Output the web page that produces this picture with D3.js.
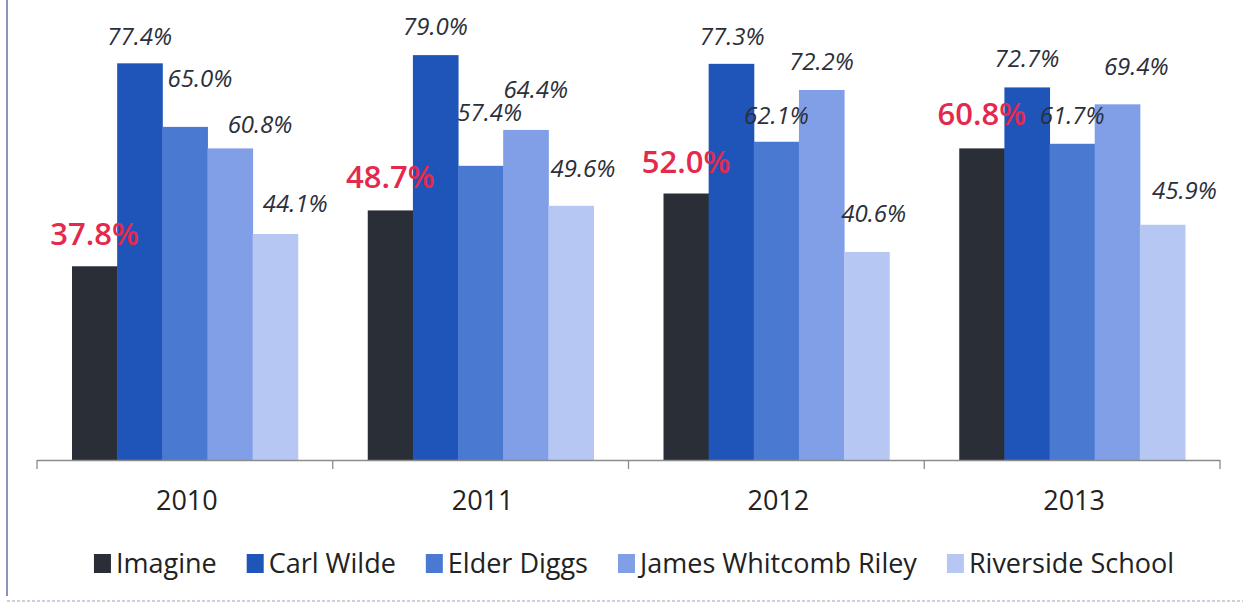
<!DOCTYPE html>
<html>
<head>
<meta charset="utf-8">
<script src="https://cdn.jsdelivr.net/npm/d3@7"></script>
<style>
  body { margin: 0; background: #fff; }
  svg { display: block; }
</style>
</head>
<body>
<svg id="chart" width="1243" height="604"></svg>
<script>
// Data
const years = ["2010", "2011", "2012", "2013"];
const schools = ["Imagine", "Carl Wilde", "Elder Diggs", "James Whitcomb Riley", "Riverside School"];

const imagine = [37.8, 48.7, 52.0, 60.8];
const carlWilde = [77.4, 79.0, 77.3, 72.7];
const elderDiggs = [65.0, 57.4, 62.1, 61.7];
const jamesRiley = [60.8, 64.4, 72.2, 69.4];
const riverside = [44.1, 49.6, 40.6, 45.9];

const seriesValues = [imagine, carlWilde, elderDiggs, jamesRiley, riverside];
const colors = ["#2a2e36", "#1f55b9", "#4a79d2", "#819fe6", "#b6c7f4"];

// hand placed labels in the original: small nudges (by year, then school)
const labelDx = [
    [0, 0, 15, 30, 20],
    [0, 0, 9, 10, 12],
    [0, 1, 0, 0, 7],
    [0, 0, 0, 19, 22]
];
const labelDy = [
    [-1, 2, -20, 5, -2],
    [-2, 0, -25, -12, -9],
    [-1, 1, 2, 0, -10],
    [-3, 0, 0, -9, -6]
];

const svg = d3.select("#chart");
const baseY = 460;

// frame of the scanned page
svg.append("line")
    .attr("x1", 7).attr("x2", 7).attr("y1", 0).attr("y2", 596)
    .attr("stroke", "#8796b6").attr("stroke-width", 2);
svg.append("line")
    .attr("x1", 7).attr("x2", 1243).attr("y1", 601).attr("y2", 601)
    .attr("stroke", "#c9d0de").attr("stroke-width", 2)
    .attr("stroke-dasharray", "3,2");

const x0 = d3.scaleBand().domain(years).range([37, 1220]).padding(0);
const x1 = d3.scaleBand().domain(schools).range([35, x0.bandwidth() - 35]).padding(0);
const y = d3.scaleLinear().domain([0, 80]).range([baseY, 50]);

// bars
const groups = svg.append("g").selectAll("g")
    .data(years)
    .join("g")
    .attr("transform", d => `translate(${x0(d)},0)`);

groups.selectAll("rect")
    .data((yr, i) => schools.map((s, j) => ({ school: s, j: j, i: i, v: seriesValues[j][i] })))
    .join("rect")
    .attr("x", d => x1(d.school))
    .attr("y", d => y(d.v))
    .attr("width", x1.bandwidth() + 0.5)
    .attr("height", d => baseY - y(d.v))
    .attr("fill", d => colors[d.j]);

// value labels
groups.selectAll("text")
    .data((yr, i) => schools.map((s, j) => ({ school: s, j: j, i: i, v: seriesValues[j][i] })))
    .join("text")
    .attr("x", d => x1(d.school) + x1.bandwidth() / 2 + labelDx[d.i][d.j])
    .attr("y", d => y(d.v) - 20 + labelDy[d.i][d.j])
    .attr("text-anchor", "middle")
    .attr("font-family", "'Open Sans', sans-serif")
    .attr("font-style", d => d.j === 0 ? "normal" : "italic")
    .attr("font-weight", d => d.j === 0 ? 600 : 400)
    .attr("font-size", d => d.j === 0 ? "31px" : "24px")
    .attr("fill", d => d.j === 0 ? "#e42a4c" : "#2b2f3a")
    .text(d => d.v.toFixed(1) + "%");

// category axis
const axis = svg.append("g").attr("stroke", "#8c8c8c").attr("stroke-width", 1.3);
axis.append("line")
    .attr("x1", x0.range()[0]).attr("x2", x0.range()[1])
    .attr("y1", baseY + 0.5).attr("y2", baseY + 0.5);
axis.selectAll("line.tick")
    .data(years.map(d => x0(d)).concat([x0.range()[1]]))
    .join("line")
    .attr("class", "tick")
    .attr("x1", d => d).attr("x2", d => d)
    .attr("y1", baseY).attr("y2", baseY + 9);

svg.append("g").selectAll("text")
    .data(years)
    .join("text")
    .attr("x", d => x0(d) + x0.bandwidth() / 2 + 2)
    .attr("y", 510)
    .attr("text-anchor", "middle")
    .attr("font-family", "'Open Sans', sans-serif")
    .attr("font-size", "27px")
    .attr("fill", "#222")
    .text(d => d);

// legend
const legend = svg.append("g");
const items = legend.selectAll("g")
    .data(schools)
    .join("g");
items.append("rect")
    .attr("width", 17).attr("height", 19)
    .attr("y", 554)
    .attr("fill", (d, i) => colors[i]);
items.append("text")
    .attr("x", 22)
    .attr("y", 573)
    .attr("font-family", "'Open Sans', sans-serif")
    .attr("font-size", "27px")
    .attr("fill", "#222")
    .text(d => d);

let pos = 0;
items.each(function () {
    const w = d3.select(this).select("text").node().getComputedTextLength();
    d3.select(this).attr("data-x", pos);
    pos += 22 + w + 30;
});
const total = pos - 30;
const start = 634 - total / 2;
items.attr("transform", function () {
    return `translate(${start + (+d3.select(this).attr("data-x"))},0)`;
});
</script>
</body>
</html>
